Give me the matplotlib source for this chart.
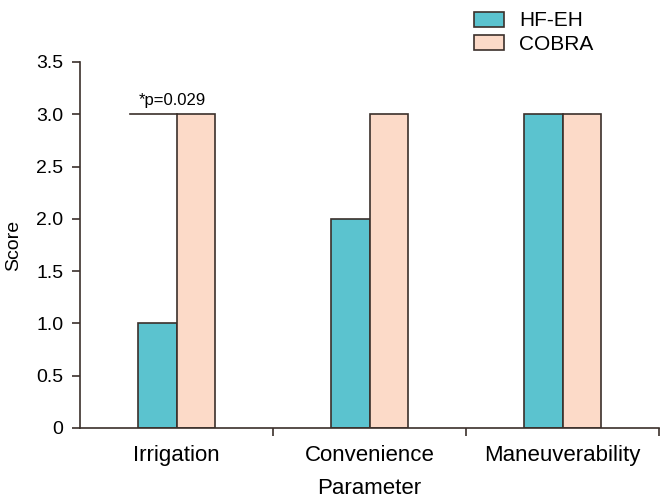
import matplotlib.pyplot as plt
import numpy as np

plt.rcParams['font.family'] = ['Liberation Sans', 'DejaVu Sans']

# data
parameters = ['Irrigation', 'Convenience', 'Maneuverability']
hf_eh = [1.0, 2.0, 3.0]
cobra = [3.0, 3.0, 3.0]
yticks = [0, 0.5, 1.0, 1.5, 2.0, 2.5, 3.0, 3.5]
ytick_labels = ['0', '0.5', '1.0', '1.5', '2.0', '2.5', '3.0', '3.5']

fig = plt.figure(figsize=(6.61, 5.03), dpi=100)
ax = fig.add_axes([80 / 661, 1 - 428 / 503, 579 / 661, 366 / 503])

x = np.arange(len(parameters))
w = 0.2
edge = '#3b302b'
ax.bar(x - w / 2, hf_eh, w, color='#5bc3cf', edgecolor=edge, linewidth=1.2, label='HF-EH')
ax.bar(x + w / 2, cobra, w, color='#fcdac8', edgecolor=edge, linewidth=1.2, label='COBRA')

ax.set_xlim(-0.5, 2.5)
ax.set_ylim(0, 3.5)
ax.set_yticks(yticks)
ax.set_yticklabels(ytick_labels, fontsize=14)
ax.set_xticks([0.5, 1.5, 2.5])
ax.set_xticklabels([])
ax.set_xticks(x, minor=True)
ax.set_xticklabels(parameters, minor=True, fontsize=16)
ax.tick_params(axis='x', which='major', length=6, width=1.2, color=edge)
ax.tick_params(axis='x', which='minor', length=0, pad=12)
ax.tick_params(axis='y', length=6, width=1.2, color=edge, pad=6)

for s in ['top', 'right']:
    ax.spines[s].set_visible(False)
for s in ['left', 'bottom']:
    ax.spines[s].set_linewidth(1.2)
    ax.spines[s].set_color(edge)

ax.set_ylabel('Score', fontsize=14, labelpad=10)
ax.set_xlabel('Parameter', fontsize=16, labelpad=9)

# significance marker
ax.plot([-0.24, 0.0], [3.0, 3.0], color=edge, linewidth=1.2)
ax.text(-0.02, 3.06, '*p=0.029', fontsize=12, ha='center', va='bottom')

fig.legend(loc='upper left', bbox_to_anchor=(463 / 661, 1.0), frameon=False,
           fontsize=15, handlelength=1.4, handleheight=0.72, handletextpad=0.75,
           labelspacing=0.2, borderpad=0.05)

fig.savefig('out.png', dpi=100)
